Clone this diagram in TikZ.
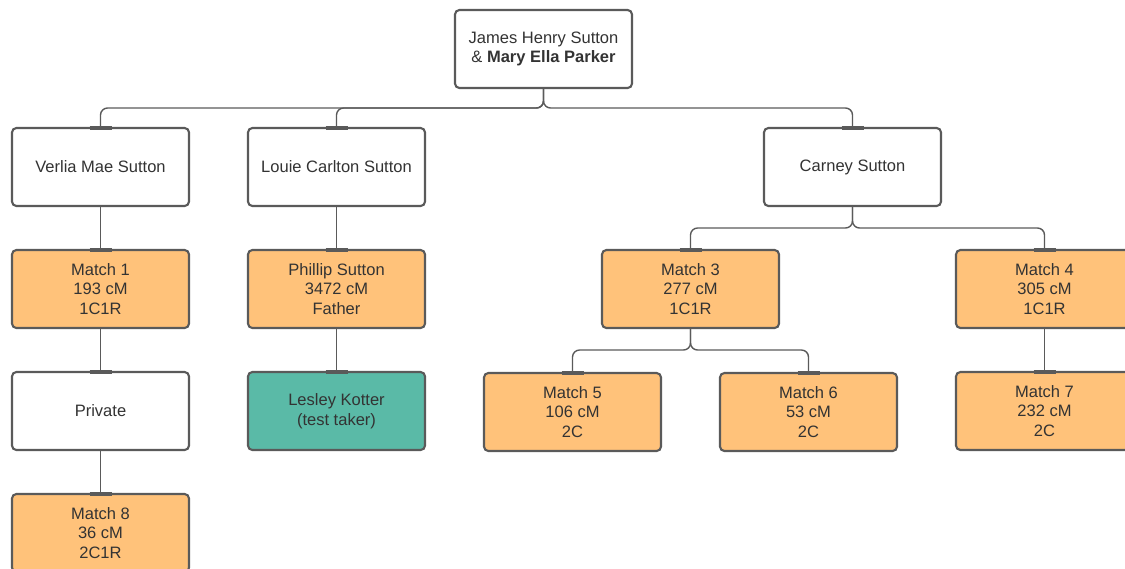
\documentclass[tikz,border=0pt]{standalone}
\usepackage{fontspec}
\setmainfont{Liberation Sans}
\usepackage{xcolor}
\usetikzlibrary{positioning}
\definecolor{lineGray}{HTML}{5A5A5A}
\definecolor{txtGray}{HTML}{333333}
\definecolor{matchOrange}{HTML}{FFC27A}
\definecolor{takerTeal}{HTML}{5ABAA7}
\tikzset{
  person/.style={draw=lineGray,line width=1.2pt,rounded corners=2.5pt,fill=white,text=txtGray,
    align=center,minimum width=3.54cm,minimum height=1.56cm,inner sep=2pt,outer sep=0pt,
    font=\fontsize{9.4}{11.3}\selectfont},
  match/.style={person,fill=matchOrange},
  taker/.style={person,fill=takerTeal},
  link/.style={draw=lineGray,line width=0.8pt,rounded corners=4pt},
  stub/.style={draw=lineGray,line width=1.8pt},
}

\begin{document}
\begin{tikzpicture}[node distance=0.88cm]
\clip (0,0) rectangle (22.5,-11.36);
% couple and children
\node[person] (couple) at (10.87,-0.98) {James Henry Sutton\\\& \textbf{Mary Ella Parker}};
\node[person] (verlia) at (2.01,-3.34) {Verlia Mae Sutton};
\node[person] (louie) at (6.73,-3.34) {Louie Carlton Sutton};
\node[person] (carney) at (17.05,-3.34) {Carney Sutton};
% Verlia's line
\node[match, below=of verlia] (m1) {Match 1\\193 cM\\1C1R};
\node[person, below=of m1] (private) {Private};
\node[match, below=of private] (m8) {Match 8\\36 cM\\2C1R};
% Louie's line
\node[match, below=of louie] (phillip) {Phillip Sutton\\3472 cM\\Father};
\node[taker, below=of phillip] (lesley) {Lesley Kotter\\(test taker)};
% Carney's line
\node[match] (m3) at (13.81,-5.78) {Match 3\\277 cM\\1C1R};
\node[match] (m4) at (20.89,-5.78) {Match 4\\305 cM\\1C1R};
\node[match] (m5) at (11.45,-8.24) {Match 5\\106 cM\\2C};
\node[match] (m6) at (16.17,-8.24) {Match 6\\53 cM\\2C};
\node[match, below=of m4] (m7) {Match 7\\232 cM\\2C};

\foreach \c in {verlia,louie,carney}
  \draw[link] (couple.south) -- ++(0,-0.4) -| (\c.north);
\foreach \c in {m3,m4}
  \draw[link] (carney.south) -- ++(0,-0.44) -| (\c.north);
\foreach \c in {m5,m6}
  \draw[link] (m3.south) -- ++(0,-0.44) -| (\c.north);
\draw[link] (verlia) -- (m1);
\draw[link] (m1) -- (private);
\draw[link] (private) -- (m8);
\draw[link] (louie) -- (phillip);
\draw[link] (phillip) -- (lesley);
\draw[link] (m4) -- (m7);

\foreach \c in {verlia,louie,carney,m1,private,m8,phillip,lesley,m3,m4,m5,m6,m7}
  \draw[stub] ([xshift=-0.22cm]\c.north) -- ([xshift=0.22cm]\c.north);
\end{tikzpicture}
\end{document}
